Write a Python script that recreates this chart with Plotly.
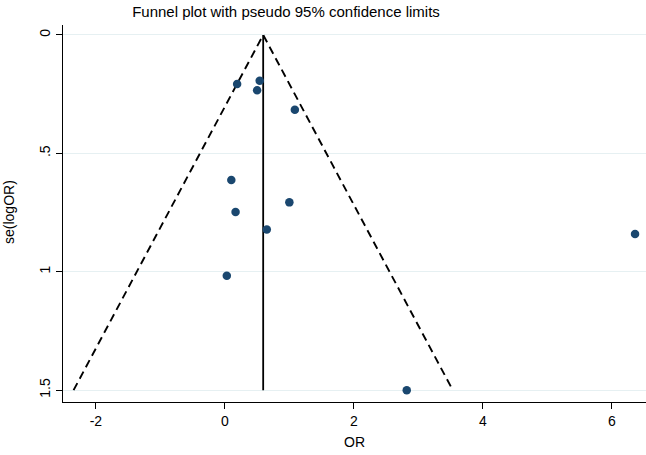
import plotly.graph_objects as go

# Study data: odds ratio (x) and standard error of log OR (y)
odds_ratio = [0.19, 0.54, 0.50, 1.085, 0.10, 0.166, 1.00, 0.65, 0.03, 2.82, 6.36]
se_log_or = [0.207, 0.193, 0.234, 0.316, 0.613, 0.748, 0.707, 0.822, 1.017, 1.50, 0.841]

pooled = 0.594
se_max = 1.5
z = 1.96

x_ticks = [-2, 0, 2, 4, 6]
x_tick_labels = ["-2", "0", "2", "4", "6"]
y_ticks = [0, 0.5, 1, 1.5]
y_tick_labels = ["0", ".5", "1", "1.5"]

fig = go.Figure()

# Pseudo 95% confidence limits
fig.add_trace(go.Scatter(
    x=[pooled - z * se_max, pooled, pooled + z * se_max],
    y=[se_max, 0, se_max],
    mode="lines",
    line=dict(color="black", width=1.9, dash="8px,5px"),
    hoverinfo="skip", showlegend=False,
))
# Pooled estimate line
fig.add_trace(go.Scatter(
    x=[pooled, pooled], y=[0, se_max],
    mode="lines",
    line=dict(color="black", width=1.8),
    hoverinfo="skip", showlegend=False,
))
# Studies
fig.add_trace(go.Scatter(
    x=odds_ratio, y=se_log_or,
    mode="markers",
    marker=dict(color="#1a476f", size=8.5),
    cliponaxis=False,
    showlegend=False,
))

font_family = "Liberation Sans, Arial, sans-serif"
L, R, T, B = 63, 0, 25, 53
W, H = 646, 455
pw = W - L - R
ph = H - T - B

fig.update_layout(
    width=W, height=H,
    margin=dict(l=L, r=R, t=T, b=B, autoexpand=False),
    paper_bgcolor="white", plot_bgcolor="white",
    font=dict(family=font_family, color="black", size=13),
    title=dict(
        text="Funnel plot with pseudo 95% confidence limits",
        x=(286 - L) / pw, xref="paper", xanchor="center",
        y=1 - 12 / H, yref="container", yanchor="middle",
        font=dict(size=15, color="black"),
    ),
    xaxis=dict(
        range=[-2.51, 6.53],
        tickvals=x_ticks, ticktext=x_tick_labels,
        ticks="outside", ticklen=6, tickcolor="black", tickwidth=1.2,
        showline=True, linecolor="black", linewidth=1.3,
        showgrid=False, zeroline=False, automargin=False,
        tickfont=dict(size=14),
    ),
    yaxis=dict(
        range=[1.55, -0.042],
        tickvals=y_ticks, ticktext=y_tick_labels,
        tickangle=-90,
        ticks="outside", ticklen=6, tickcolor="black", tickwidth=1.2,
        showline=True, linecolor="black", linewidth=1.3,
        showgrid=True, gridcolor="#e6f0f2", gridwidth=1.2,
        zeroline=False, automargin=False,
        tickfont=dict(size=14),
    ),
    annotations=[
        dict(text="OR", xref="paper", yref="paper",
             x=(354 - L) / pw, y=-(442 - (T + ph)) / ph,
             xanchor="center", yanchor="middle", showarrow=False,
             font=dict(size=14, color="black")),
        dict(text="se(logOR)", xref="paper", yref="paper",
             x=-(L - 9) / pw, y=(T + ph - 212) / ph,
             xanchor="center", yanchor="middle", textangle=-90,
             showarrow=False, font=dict(size=14, color="black")),
    ],
)

fig.write_html(
    "out.html",
    config={"displayModeBar": False},
    post_script="document.body.style.margin='0';document.body.style.overflow='hidden';",
)
